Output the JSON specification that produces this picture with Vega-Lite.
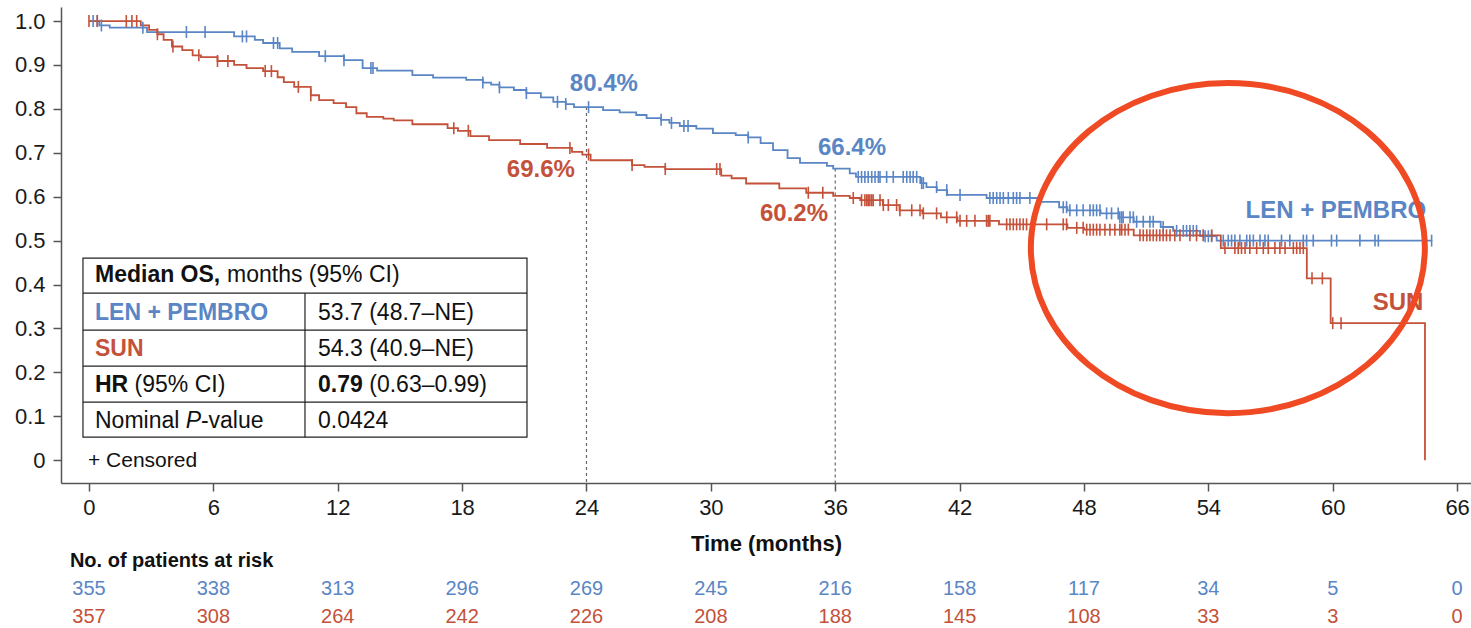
{
  "$schema": "https://vega.github.io/schema/vega-lite/v6.json",
  "padding": {"left": 14, "top": 7, "right": 0, "bottom": 0},
  "spacing": 64,
  "bounds": "flush",
  "config": {
    "font": "Liberation Sans",
    "view": {"stroke": null},
    "axis": {"domainColor": "#555", "tickColor": "#555", "domainWidth": 1.5, "tickWidth": 1.5, "labelColor": "#1a1a1a", "titleColor": "#111", "grid": false}
  },
  "datasets": {
    "km": [
      {"arm": "LEN + PEMBRO", "time": 0, "surv": 1.0},
      {"arm": "LEN + PEMBRO", "time": 0.5, "surv": 0.99},
      {"arm": "LEN + PEMBRO", "time": 1.0, "surv": 0.985},
      {"arm": "LEN + PEMBRO", "time": 2.8, "surv": 0.975},
      {"arm": "LEN + PEMBRO", "time": 7.0, "surv": 0.965},
      {"arm": "LEN + PEMBRO", "time": 8.0, "surv": 0.957},
      {"arm": "LEN + PEMBRO", "time": 8.4, "surv": 0.95},
      {"arm": "LEN + PEMBRO", "time": 9.2, "surv": 0.938},
      {"arm": "LEN + PEMBRO", "time": 9.8, "surv": 0.93},
      {"arm": "LEN + PEMBRO", "time": 11.1, "surv": 0.92},
      {"arm": "LEN + PEMBRO", "time": 12.3, "surv": 0.911},
      {"arm": "LEN + PEMBRO", "time": 13.2, "surv": 0.893},
      {"arm": "LEN + PEMBRO", "time": 13.9, "surv": 0.887},
      {"arm": "LEN + PEMBRO", "time": 15.6, "surv": 0.877},
      {"arm": "LEN + PEMBRO", "time": 16.6, "surv": 0.871},
      {"arm": "LEN + PEMBRO", "time": 18.2, "surv": 0.866},
      {"arm": "LEN + PEMBRO", "time": 19.0, "surv": 0.86},
      {"arm": "LEN + PEMBRO", "time": 19.4, "surv": 0.855},
      {"arm": "LEN + PEMBRO", "time": 19.8, "surv": 0.849},
      {"arm": "LEN + PEMBRO", "time": 20.5, "surv": 0.843},
      {"arm": "LEN + PEMBRO", "time": 21.1, "surv": 0.836},
      {"arm": "LEN + PEMBRO", "time": 21.8, "surv": 0.826},
      {"arm": "LEN + PEMBRO", "time": 22.4, "surv": 0.816},
      {"arm": "LEN + PEMBRO", "time": 23.0, "surv": 0.811},
      {"arm": "LEN + PEMBRO", "time": 23.4, "surv": 0.804},
      {"arm": "LEN + PEMBRO", "time": 24.8, "surv": 0.797},
      {"arm": "LEN + PEMBRO", "time": 25.6, "surv": 0.792},
      {"arm": "LEN + PEMBRO", "time": 26.4, "surv": 0.786},
      {"arm": "LEN + PEMBRO", "time": 26.9, "surv": 0.779},
      {"arm": "LEN + PEMBRO", "time": 27.6, "surv": 0.775},
      {"arm": "LEN + PEMBRO", "time": 28.0, "surv": 0.768},
      {"arm": "LEN + PEMBRO", "time": 28.5, "surv": 0.761},
      {"arm": "LEN + PEMBRO", "time": 29.3, "surv": 0.755},
      {"arm": "LEN + PEMBRO", "time": 30.1, "surv": 0.745},
      {"arm": "LEN + PEMBRO", "time": 31.2, "surv": 0.74},
      {"arm": "LEN + PEMBRO", "time": 31.8, "surv": 0.735},
      {"arm": "LEN + PEMBRO", "time": 32.4, "surv": 0.722},
      {"arm": "LEN + PEMBRO", "time": 33.0, "surv": 0.706},
      {"arm": "LEN + PEMBRO", "time": 33.7, "surv": 0.688},
      {"arm": "LEN + PEMBRO", "time": 34.3, "surv": 0.677},
      {"arm": "LEN + PEMBRO", "time": 35.6, "surv": 0.67},
      {"arm": "LEN + PEMBRO", "time": 35.9, "surv": 0.664},
      {"arm": "LEN + PEMBRO", "time": 36.7, "surv": 0.653},
      {"arm": "LEN + PEMBRO", "time": 37.0, "surv": 0.645},
      {"arm": "LEN + PEMBRO", "time": 40.1, "surv": 0.631},
      {"arm": "LEN + PEMBRO", "time": 40.4, "surv": 0.622},
      {"arm": "LEN + PEMBRO", "time": 40.9, "surv": 0.615},
      {"arm": "LEN + PEMBRO", "time": 41.4, "surv": 0.604},
      {"arm": "LEN + PEMBRO", "time": 43.3, "surv": 0.597},
      {"arm": "LEN + PEMBRO", "time": 45.9, "surv": 0.588},
      {"arm": "LEN + PEMBRO", "time": 46.8, "surv": 0.576},
      {"arm": "LEN + PEMBRO", "time": 47.2, "surv": 0.569},
      {"arm": "LEN + PEMBRO", "time": 48.8, "surv": 0.562},
      {"arm": "LEN + PEMBRO", "time": 49.7, "surv": 0.553},
      {"arm": "LEN + PEMBRO", "time": 50.4, "surv": 0.543},
      {"arm": "LEN + PEMBRO", "time": 51.7, "surv": 0.531},
      {"arm": "LEN + PEMBRO", "time": 52.3, "surv": 0.522},
      {"arm": "LEN + PEMBRO", "time": 53.6, "surv": 0.51},
      {"arm": "LEN + PEMBRO", "time": 54.4, "surv": 0.5},
      {"arm": "LEN + PEMBRO", "time": 64.8, "surv": 0.5},
      {"arm": "SUN", "time": 0, "surv": 1.0},
      {"arm": "SUN", "time": 2.5, "surv": 0.99},
      {"arm": "SUN", "time": 2.9, "surv": 0.98},
      {"arm": "SUN", "time": 3.3, "surv": 0.97},
      {"arm": "SUN", "time": 3.6, "surv": 0.957},
      {"arm": "SUN", "time": 4.0, "surv": 0.942},
      {"arm": "SUN", "time": 4.5, "surv": 0.934},
      {"arm": "SUN", "time": 5.0, "surv": 0.922},
      {"arm": "SUN", "time": 5.4, "surv": 0.918},
      {"arm": "SUN", "time": 6.2, "surv": 0.909},
      {"arm": "SUN", "time": 7.0, "surv": 0.9},
      {"arm": "SUN", "time": 7.6, "surv": 0.893},
      {"arm": "SUN", "time": 8.4, "surv": 0.886},
      {"arm": "SUN", "time": 9.1, "surv": 0.872},
      {"arm": "SUN", "time": 9.4, "surv": 0.861},
      {"arm": "SUN", "time": 9.9, "surv": 0.85},
      {"arm": "SUN", "time": 10.7, "surv": 0.831},
      {"arm": "SUN", "time": 11.1, "surv": 0.82},
      {"arm": "SUN", "time": 11.8, "surv": 0.813},
      {"arm": "SUN", "time": 12.4, "surv": 0.804},
      {"arm": "SUN", "time": 12.9, "surv": 0.79},
      {"arm": "SUN", "time": 13.4, "surv": 0.782},
      {"arm": "SUN", "time": 14.2, "surv": 0.778},
      {"arm": "SUN", "time": 14.7, "surv": 0.774},
      {"arm": "SUN", "time": 15.6, "surv": 0.765},
      {"arm": "SUN", "time": 17.3, "surv": 0.756},
      {"arm": "SUN", "time": 17.8, "surv": 0.75},
      {"arm": "SUN", "time": 18.4, "surv": 0.738},
      {"arm": "SUN", "time": 19.3, "surv": 0.729},
      {"arm": "SUN", "time": 20.8, "surv": 0.72},
      {"arm": "SUN", "time": 22.1, "surv": 0.711},
      {"arm": "SUN", "time": 23.3, "surv": 0.702},
      {"arm": "SUN", "time": 23.8, "surv": 0.696},
      {"arm": "SUN", "time": 24.2, "surv": 0.683},
      {"arm": "SUN", "time": 26.2, "surv": 0.672},
      {"arm": "SUN", "time": 26.8, "surv": 0.668},
      {"arm": "SUN", "time": 27.8, "surv": 0.663},
      {"arm": "SUN", "time": 30.5, "surv": 0.648},
      {"arm": "SUN", "time": 31.0, "surv": 0.642},
      {"arm": "SUN", "time": 31.7, "surv": 0.63},
      {"arm": "SUN", "time": 33.3, "surv": 0.619},
      {"arm": "SUN", "time": 34.6, "surv": 0.609},
      {"arm": "SUN", "time": 35.9, "surv": 0.602},
      {"arm": "SUN", "time": 36.7, "surv": 0.597},
      {"arm": "SUN", "time": 37.2, "surv": 0.592},
      {"arm": "SUN", "time": 38.3, "surv": 0.581},
      {"arm": "SUN", "time": 39.1, "surv": 0.569},
      {"arm": "SUN", "time": 40.2, "surv": 0.562},
      {"arm": "SUN", "time": 41.1, "surv": 0.553},
      {"arm": "SUN", "time": 41.9, "surv": 0.545},
      {"arm": "SUN", "time": 43.9, "surv": 0.537},
      {"arm": "SUN", "time": 47.2, "surv": 0.529},
      {"arm": "SUN", "time": 48.0, "surv": 0.525},
      {"arm": "SUN", "time": 50.4, "surv": 0.512},
      {"arm": "SUN", "time": 54.6, "surv": 0.483},
      {"arm": "SUN", "time": 58.75, "surv": 0.414},
      {"arm": "SUN", "time": 59.9, "surv": 0.312},
      {"arm": "SUN", "time": 64.45, "surv": 0.0}
    ],
    "cens": [
      {"arm": "LEN + PEMBRO", "time": 0.2, "surv": 1.0},
      {"arm": "LEN + PEMBRO", "time": 0.4, "surv": 1.0},
      {"arm": "LEN + PEMBRO", "time": 0.6, "surv": 0.99},
      {"arm": "LEN + PEMBRO", "time": 2.6, "surv": 0.985},
      {"arm": "LEN + PEMBRO", "time": 4.7, "surv": 0.975},
      {"arm": "LEN + PEMBRO", "time": 5.6, "surv": 0.975},
      {"arm": "LEN + PEMBRO", "time": 7.4, "surv": 0.965},
      {"arm": "LEN + PEMBRO", "time": 7.6, "surv": 0.965},
      {"arm": "LEN + PEMBRO", "time": 8.9, "surv": 0.95},
      {"arm": "LEN + PEMBRO", "time": 9.1, "surv": 0.95},
      {"arm": "LEN + PEMBRO", "time": 11.4, "surv": 0.92},
      {"arm": "LEN + PEMBRO", "time": 12.3, "surv": 0.911},
      {"arm": "LEN + PEMBRO", "time": 13.6, "surv": 0.893},
      {"arm": "LEN + PEMBRO", "time": 13.7, "surv": 0.893},
      {"arm": "LEN + PEMBRO", "time": 19.0, "surv": 0.86},
      {"arm": "LEN + PEMBRO", "time": 19.8, "surv": 0.849},
      {"arm": "LEN + PEMBRO", "time": 21.1, "surv": 0.836},
      {"arm": "LEN + PEMBRO", "time": 22.6, "surv": 0.816},
      {"arm": "LEN + PEMBRO", "time": 23.0, "surv": 0.811},
      {"arm": "LEN + PEMBRO", "time": 24.1, "surv": 0.804},
      {"arm": "LEN + PEMBRO", "time": 27.6, "surv": 0.775},
      {"arm": "LEN + PEMBRO", "time": 28.1, "surv": 0.768},
      {"arm": "LEN + PEMBRO", "time": 28.7, "surv": 0.761},
      {"arm": "LEN + PEMBRO", "time": 28.9, "surv": 0.761},
      {"arm": "LEN + PEMBRO", "time": 31.8, "surv": 0.735},
      {"arm": "LEN + PEMBRO", "time": 37.11, "surv": 0.645},
      {"arm": "LEN + PEMBRO", "time": 37.27, "surv": 0.645},
      {"arm": "LEN + PEMBRO", "time": 37.43, "surv": 0.645},
      {"arm": "LEN + PEMBRO", "time": 37.59, "surv": 0.645},
      {"arm": "LEN + PEMBRO", "time": 37.76, "surv": 0.645},
      {"arm": "LEN + PEMBRO", "time": 37.92, "surv": 0.645},
      {"arm": "LEN + PEMBRO", "time": 38.08, "surv": 0.645},
      {"arm": "LEN + PEMBRO", "time": 38.16, "surv": 0.645},
      {"arm": "LEN + PEMBRO", "time": 38.48, "surv": 0.645},
      {"arm": "LEN + PEMBRO", "time": 38.8, "surv": 0.645},
      {"arm": "LEN + PEMBRO", "time": 39.28, "surv": 0.645},
      {"arm": "LEN + PEMBRO", "time": 39.45, "surv": 0.645},
      {"arm": "LEN + PEMBRO", "time": 39.61, "surv": 0.645},
      {"arm": "LEN + PEMBRO", "time": 39.76, "surv": 0.645},
      {"arm": "LEN + PEMBRO", "time": 39.93, "surv": 0.645},
      {"arm": "LEN + PEMBRO", "time": 40.17, "surv": 0.631},
      {"arm": "LEN + PEMBRO", "time": 40.25, "surv": 0.631},
      {"arm": "LEN + PEMBRO", "time": 40.89, "surv": 0.622},
      {"arm": "LEN + PEMBRO", "time": 41.38, "surv": 0.615},
      {"arm": "LEN + PEMBRO", "time": 42.02, "surv": 0.604},
      {"arm": "LEN + PEMBRO", "time": 43.46, "surv": 0.597},
      {"arm": "LEN + PEMBRO", "time": 43.62, "surv": 0.597},
      {"arm": "LEN + PEMBRO", "time": 43.79, "surv": 0.597},
      {"arm": "LEN + PEMBRO", "time": 43.95, "surv": 0.597},
      {"arm": "LEN + PEMBRO", "time": 44.11, "surv": 0.597},
      {"arm": "LEN + PEMBRO", "time": 44.35, "surv": 0.597},
      {"arm": "LEN + PEMBRO", "time": 44.59, "surv": 0.597},
      {"arm": "LEN + PEMBRO", "time": 44.75, "surv": 0.597},
      {"arm": "LEN + PEMBRO", "time": 44.91, "surv": 0.597},
      {"arm": "LEN + PEMBRO", "time": 45.39, "surv": 0.597},
      {"arm": "LEN + PEMBRO", "time": 47.0, "surv": 0.576},
      {"arm": "LEN + PEMBRO", "time": 47.16, "surv": 0.576},
      {"arm": "LEN + PEMBRO", "time": 47.32, "surv": 0.569},
      {"arm": "LEN + PEMBRO", "time": 47.65, "surv": 0.569},
      {"arm": "LEN + PEMBRO", "time": 47.96, "surv": 0.569},
      {"arm": "LEN + PEMBRO", "time": 48.29, "surv": 0.569},
      {"arm": "LEN + PEMBRO", "time": 48.45, "surv": 0.569},
      {"arm": "LEN + PEMBRO", "time": 48.61, "surv": 0.569},
      {"arm": "LEN + PEMBRO", "time": 48.77, "surv": 0.569},
      {"arm": "LEN + PEMBRO", "time": 49.09, "surv": 0.562},
      {"arm": "LEN + PEMBRO", "time": 49.33, "surv": 0.562},
      {"arm": "LEN + PEMBRO", "time": 49.65, "surv": 0.562},
      {"arm": "LEN + PEMBRO", "time": 49.73, "surv": 0.553},
      {"arm": "LEN + PEMBRO", "time": 49.82, "surv": 0.553},
      {"arm": "LEN + PEMBRO", "time": 49.89, "surv": 0.553},
      {"arm": "LEN + PEMBRO", "time": 50.22, "surv": 0.553},
      {"arm": "LEN + PEMBRO", "time": 50.38, "surv": 0.553},
      {"arm": "LEN + PEMBRO", "time": 50.54, "surv": 0.543},
      {"arm": "LEN + PEMBRO", "time": 50.86, "surv": 0.543},
      {"arm": "LEN + PEMBRO", "time": 51.18, "surv": 0.543},
      {"arm": "LEN + PEMBRO", "time": 51.34, "surv": 0.543},
      {"arm": "LEN + PEMBRO", "time": 51.82, "surv": 0.531},
      {"arm": "LEN + PEMBRO", "time": 52.47, "surv": 0.522},
      {"arm": "LEN + PEMBRO", "time": 52.79, "surv": 0.522},
      {"arm": "LEN + PEMBRO", "time": 52.95, "surv": 0.522},
      {"arm": "LEN + PEMBRO", "time": 53.11, "surv": 0.522},
      {"arm": "LEN + PEMBRO", "time": 53.27, "surv": 0.522},
      {"arm": "LEN + PEMBRO", "time": 53.43, "surv": 0.522},
      {"arm": "LEN + PEMBRO", "time": 53.84, "surv": 0.51},
      {"arm": "LEN + PEMBRO", "time": 54.0, "surv": 0.51},
      {"arm": "LEN + PEMBRO", "time": 54.16, "surv": 0.51},
      {"arm": "LEN + PEMBRO", "time": 54.72, "surv": 0.5},
      {"arm": "LEN + PEMBRO", "time": 54.96, "surv": 0.5},
      {"arm": "LEN + PEMBRO", "time": 55.12, "surv": 0.5},
      {"arm": "LEN + PEMBRO", "time": 55.28, "surv": 0.5},
      {"arm": "LEN + PEMBRO", "time": 55.52, "surv": 0.5},
      {"arm": "LEN + PEMBRO", "time": 55.85, "surv": 0.5},
      {"arm": "LEN + PEMBRO", "time": 56.0, "surv": 0.5},
      {"arm": "LEN + PEMBRO", "time": 56.17, "surv": 0.5},
      {"arm": "LEN + PEMBRO", "time": 56.49, "surv": 0.5},
      {"arm": "LEN + PEMBRO", "time": 56.73, "surv": 0.5},
      {"arm": "LEN + PEMBRO", "time": 56.89, "surv": 0.5},
      {"arm": "LEN + PEMBRO", "time": 57.53, "surv": 0.5},
      {"arm": "LEN + PEMBRO", "time": 57.93, "surv": 0.5},
      {"arm": "LEN + PEMBRO", "time": 58.58, "surv": 0.5},
      {"arm": "LEN + PEMBRO", "time": 58.74, "surv": 0.5},
      {"arm": "LEN + PEMBRO", "time": 59.06, "surv": 0.5},
      {"arm": "LEN + PEMBRO", "time": 59.94, "surv": 0.5},
      {"arm": "LEN + PEMBRO", "time": 60.19, "surv": 0.5},
      {"arm": "LEN + PEMBRO", "time": 61.31, "surv": 0.5},
      {"arm": "LEN + PEMBRO", "time": 62.04, "surv": 0.5},
      {"arm": "LEN + PEMBRO", "time": 62.2, "surv": 0.5},
      {"arm": "LEN + PEMBRO", "time": 64.77, "surv": 0.5},
      {"arm": "SUN", "time": 0.0, "surv": 1.0},
      {"arm": "SUN", "time": 0.4, "surv": 1.0},
      {"arm": "SUN", "time": 1.8, "surv": 1.0},
      {"arm": "SUN", "time": 2.07, "surv": 1.0},
      {"arm": "SUN", "time": 2.3, "surv": 1.0},
      {"arm": "SUN", "time": 3.3, "surv": 0.97},
      {"arm": "SUN", "time": 4.05, "surv": 0.942},
      {"arm": "SUN", "time": 5.3, "surv": 0.922},
      {"arm": "SUN", "time": 6.2, "surv": 0.909},
      {"arm": "SUN", "time": 6.7, "surv": 0.909},
      {"arm": "SUN", "time": 8.5, "surv": 0.886},
      {"arm": "SUN", "time": 8.8, "surv": 0.886},
      {"arm": "SUN", "time": 10.1, "surv": 0.85},
      {"arm": "SUN", "time": 10.7, "surv": 0.831},
      {"arm": "SUN", "time": 17.6, "surv": 0.756},
      {"arm": "SUN", "time": 18.3, "surv": 0.75},
      {"arm": "SUN", "time": 23.2, "surv": 0.711},
      {"arm": "SUN", "time": 24.1, "surv": 0.696},
      {"arm": "SUN", "time": 26.2, "surv": 0.672},
      {"arm": "SUN", "time": 27.8, "surv": 0.663},
      {"arm": "SUN", "time": 30.28, "surv": 0.663},
      {"arm": "SUN", "time": 30.44, "surv": 0.663},
      {"arm": "SUN", "time": 34.7, "surv": 0.609},
      {"arm": "SUN", "time": 35.4, "surv": 0.609},
      {"arm": "SUN", "time": 36.87, "surv": 0.597},
      {"arm": "SUN", "time": 37.27, "surv": 0.592},
      {"arm": "SUN", "time": 37.43, "surv": 0.592},
      {"arm": "SUN", "time": 37.52, "surv": 0.592},
      {"arm": "SUN", "time": 37.59, "surv": 0.592},
      {"arm": "SUN", "time": 37.67, "surv": 0.592},
      {"arm": "SUN", "time": 37.76, "surv": 0.592},
      {"arm": "SUN", "time": 37.83, "surv": 0.592},
      {"arm": "SUN", "time": 38.16, "surv": 0.592},
      {"arm": "SUN", "time": 38.32, "surv": 0.581},
      {"arm": "SUN", "time": 38.56, "surv": 0.581},
      {"arm": "SUN", "time": 38.96, "surv": 0.581},
      {"arm": "SUN", "time": 39.12, "surv": 0.569},
      {"arm": "SUN", "time": 39.69, "surv": 0.569},
      {"arm": "SUN", "time": 40.09, "surv": 0.569},
      {"arm": "SUN", "time": 40.25, "surv": 0.562},
      {"arm": "SUN", "time": 40.89, "surv": 0.562},
      {"arm": "SUN", "time": 41.38, "surv": 0.553},
      {"arm": "SUN", "time": 41.86, "surv": 0.553},
      {"arm": "SUN", "time": 42.02, "surv": 0.545},
      {"arm": "SUN", "time": 42.34, "surv": 0.545},
      {"arm": "SUN", "time": 42.74, "surv": 0.545},
      {"arm": "SUN", "time": 43.3, "surv": 0.545},
      {"arm": "SUN", "time": 43.38, "surv": 0.545},
      {"arm": "SUN", "time": 43.46, "surv": 0.545},
      {"arm": "SUN", "time": 44.27, "surv": 0.537},
      {"arm": "SUN", "time": 44.43, "surv": 0.537},
      {"arm": "SUN", "time": 44.59, "surv": 0.537},
      {"arm": "SUN", "time": 44.75, "surv": 0.537},
      {"arm": "SUN", "time": 44.91, "surv": 0.537},
      {"arm": "SUN", "time": 45.07, "surv": 0.537},
      {"arm": "SUN", "time": 45.23, "surv": 0.537},
      {"arm": "SUN", "time": 46.2, "surv": 0.537},
      {"arm": "SUN", "time": 47.0, "surv": 0.537},
      {"arm": "SUN", "time": 47.16, "surv": 0.537},
      {"arm": "SUN", "time": 47.65, "surv": 0.529},
      {"arm": "SUN", "time": 47.96, "surv": 0.529},
      {"arm": "SUN", "time": 48.13, "surv": 0.525},
      {"arm": "SUN", "time": 48.29, "surv": 0.525},
      {"arm": "SUN", "time": 48.45, "surv": 0.525},
      {"arm": "SUN", "time": 48.61, "surv": 0.525},
      {"arm": "SUN", "time": 48.77, "surv": 0.525},
      {"arm": "SUN", "time": 49.01, "surv": 0.525},
      {"arm": "SUN", "time": 49.25, "surv": 0.525},
      {"arm": "SUN", "time": 49.49, "surv": 0.525},
      {"arm": "SUN", "time": 49.73, "surv": 0.525},
      {"arm": "SUN", "time": 49.82, "surv": 0.525},
      {"arm": "SUN", "time": 49.98, "surv": 0.525},
      {"arm": "SUN", "time": 50.14, "surv": 0.525},
      {"arm": "SUN", "time": 50.7, "surv": 0.512},
      {"arm": "SUN", "time": 50.86, "surv": 0.512},
      {"arm": "SUN", "time": 51.03, "surv": 0.512},
      {"arm": "SUN", "time": 51.18, "surv": 0.512},
      {"arm": "SUN", "time": 51.34, "surv": 0.512},
      {"arm": "SUN", "time": 51.5, "surv": 0.512},
      {"arm": "SUN", "time": 51.66, "surv": 0.512},
      {"arm": "SUN", "time": 51.82, "surv": 0.512},
      {"arm": "SUN", "time": 51.98, "surv": 0.512},
      {"arm": "SUN", "time": 52.15, "surv": 0.512},
      {"arm": "SUN", "time": 52.38, "surv": 0.512},
      {"arm": "SUN", "time": 52.63, "surv": 0.512},
      {"arm": "SUN", "time": 53.11, "surv": 0.512},
      {"arm": "SUN", "time": 53.43, "surv": 0.512},
      {"arm": "SUN", "time": 53.75, "surv": 0.512},
      {"arm": "SUN", "time": 54.16, "surv": 0.512},
      {"arm": "SUN", "time": 54.8, "surv": 0.483},
      {"arm": "SUN", "time": 55.28, "surv": 0.483},
      {"arm": "SUN", "time": 55.44, "surv": 0.483},
      {"arm": "SUN", "time": 55.6, "surv": 0.483},
      {"arm": "SUN", "time": 55.77, "surv": 0.483},
      {"arm": "SUN", "time": 56.0, "surv": 0.483},
      {"arm": "SUN", "time": 56.33, "surv": 0.483},
      {"arm": "SUN", "time": 56.65, "surv": 0.483},
      {"arm": "SUN", "time": 56.89, "surv": 0.483},
      {"arm": "SUN", "time": 57.21, "surv": 0.483},
      {"arm": "SUN", "time": 57.45, "surv": 0.483},
      {"arm": "SUN", "time": 57.7, "surv": 0.483},
      {"arm": "SUN", "time": 58.1, "surv": 0.483},
      {"arm": "SUN", "time": 58.26, "surv": 0.483},
      {"arm": "SUN", "time": 58.42, "surv": 0.483},
      {"arm": "SUN", "time": 58.58, "surv": 0.483},
      {"arm": "SUN", "time": 59.0, "surv": 0.414},
      {"arm": "SUN", "time": 59.5, "surv": 0.414},
      {"arm": "SUN", "time": 60.0, "surv": 0.312},
      {"arm": "SUN", "time": 60.4, "surv": 0.312}
    ],
    "risk": [
      {"arm": "LEN + PEMBRO", "time": 0, "n": 355},
      {"arm": "LEN + PEMBRO", "time": 6, "n": 338},
      {"arm": "LEN + PEMBRO", "time": 12, "n": 313},
      {"arm": "LEN + PEMBRO", "time": 18, "n": 296},
      {"arm": "LEN + PEMBRO", "time": 24, "n": 269},
      {"arm": "LEN + PEMBRO", "time": 30, "n": 245},
      {"arm": "LEN + PEMBRO", "time": 36, "n": 216},
      {"arm": "LEN + PEMBRO", "time": 42, "n": 158},
      {"arm": "LEN + PEMBRO", "time": 48, "n": 117},
      {"arm": "LEN + PEMBRO", "time": 54, "n": 34},
      {"arm": "LEN + PEMBRO", "time": 60, "n": 5},
      {"arm": "LEN + PEMBRO", "time": 66, "n": 0},
      {"arm": "SUN", "time": 0, "n": 357},
      {"arm": "SUN", "time": 6, "n": 308},
      {"arm": "SUN", "time": 12, "n": 264},
      {"arm": "SUN", "time": 18, "n": 242},
      {"arm": "SUN", "time": 24, "n": 226},
      {"arm": "SUN", "time": 30, "n": 208},
      {"arm": "SUN", "time": 36, "n": 188},
      {"arm": "SUN", "time": 42, "n": 145},
      {"arm": "SUN", "time": 48, "n": 108},
      {"arm": "SUN", "time": 54, "n": 33},
      {"arm": "SUN", "time": 60, "n": 3},
      {"arm": "SUN", "time": 66, "n": 0}
    ],
    "landmarks": [
      {"time": 24, "surv": 0.804},
      {"time": 36, "surv": 0.664}
    ]
  },
  "vconcat": [
    {
      "width": 1410,
      "height": 476,
      "layer": [
        {
          "data": {"name": "landmarks"},
          "mark": {"type": "rule", "color": "#666", "strokeDash": [3, 3], "strokeWidth": 1.2},
          "encoding": {
            "x": {"field": "time", "type": "quantitative"},
            "y": {"field": "surv", "type": "quantitative"},
            "y2": {"datum": -0.052}
          }
        },
        {
          "data": {"name": "km"},
          "mark": {"type": "line", "interpolate": "step-after", "strokeWidth": 1.8},
          "encoding": {
            "x": {"field": "time", "type": "quantitative",
              "scale": {"domain": [-1.35, 66.67], "nice": false, "zero": false},
              "axis": {"values": [0, 6, 12, 18, 24, 30, 36, 42, 48, 54, 60, 66], "title": "Time (months)", "tickSize": 8, "labelPadding": 6, "titlePadding": 15, "labelFontSize": 22, "titleFontSize": 22, "titleFontWeight": "bold"}},
            "y": {"field": "surv", "type": "quantitative",
              "scale": {"domain": [-0.052, 1.032], "nice": false, "zero": false},
              "axis": {"values": [0, 0.1, 0.2, 0.3, 0.4, 0.5, 0.6, 0.7, 0.8, 0.9, 1], "labelExpr": "datum.value === 0 ? '0' : format(datum.value, '.1f')", "title": null, "tickSize": 8, "labelPadding": 8, "labelFontSize": 22}},
            "color": {"field": "arm", "type": "nominal", "scale": {"domain": ["LEN + PEMBRO", "SUN"], "range": ["#5a86c5", "#c4513a"]}, "legend": null}
          }
        },
        {
          "data": {"name": "cens"},
          "mark": {"type": "point", "shape": "M0,-1L0,1", "size": 144, "filled": false, "strokeWidth": 1.6, "opacity": 1},
          "encoding": {
            "x": {"field": "time", "type": "quantitative"},
            "y": {"field": "surv", "type": "quantitative"},
            "color": {"field": "arm", "type": "nominal", "scale": {"domain": ["LEN + PEMBRO", "SUN"], "range": ["#5a86c5", "#c4513a"]}, "legend": null}
          }
        },
        {"data": {"values": [{}]}, "mark": {"type": "text", "text": "80.4%", "fontSize": 24, "fontWeight": "bold", "color": "#5a86c5"}, "encoding": {"x": {"datum": 24.84, "type": "quantitative"}, "y": {"datum": 0.8565, "type": "quantitative"}}},
        {"data": {"values": [{}]}, "mark": {"type": "text", "text": "69.6%", "fontSize": 24, "fontWeight": "bold", "color": "#c4513a"}, "encoding": {"x": {"datum": 21.8, "type": "quantitative"}, "y": {"datum": 0.6606, "type": "quantitative"}}},
        {"data": {"values": [{}]}, "mark": {"type": "text", "text": "66.4%", "fontSize": 24, "fontWeight": "bold", "color": "#5a86c5"}, "encoding": {"x": {"datum": 36.81, "type": "quantitative"}, "y": {"datum": 0.7107, "type": "quantitative"}}},
        {"data": {"values": [{}]}, "mark": {"type": "text", "text": "60.2%", "fontSize": 24, "fontWeight": "bold", "color": "#c4513a"}, "encoding": {"x": {"datum": 34.01, "type": "quantitative"}, "y": {"datum": 0.5604, "type": "quantitative"}}},
        {"data": {"values": [{}]}, "mark": {"type": "text", "text": "LEN + PEMBRO", "fontSize": 24, "fontWeight": "bold", "color": "#5a86c5"}, "encoding": {"x": {"datum": 60.15, "type": "quantitative"}, "y": {"datum": 0.5672, "type": "quantitative"}}},
        {"data": {"values": [{}]}, "mark": {"type": "text", "text": "SUN", "fontSize": 24, "fontWeight": "bold", "color": "#c4513a"}, "encoding": {"x": {"datum": 63.15, "type": "quantitative"}, "y": {"datum": 0.3576, "type": "quantitative"}}},
        {"data": {"values": [{}]}, "mark": {"type": "rect", "fill": "white", "stroke": "#222", "strokeWidth": 1.2}, "encoding": {"x": {"datum": -0.29, "type": "quantitative"}, "x2": {"datum": 21.13}, "y": {"datum": 0.4601, "type": "quantitative"}, "y2": {"datum": 0.0524}}},
        {"data": {"values": [{}]}, "mark": {"type": "rule", "color": "#222", "strokeWidth": 1.2}, "encoding": {"x": {"datum": -0.29, "type": "quantitative"}, "x2": {"datum": 21.13}, "y": {"datum": 0.3804, "type": "quantitative"}}},
        {"data": {"values": [{}]}, "mark": {"type": "rule", "color": "#222", "strokeWidth": 1.2}, "encoding": {"x": {"datum": -0.29, "type": "quantitative"}, "x2": {"datum": 21.13}, "y": {"datum": 0.2961, "type": "quantitative"}}},
        {"data": {"values": [{}]}, "mark": {"type": "rule", "color": "#222", "strokeWidth": 1.2}, "encoding": {"x": {"datum": -0.29, "type": "quantitative"}, "x2": {"datum": 21.13}, "y": {"datum": 0.2141, "type": "quantitative"}}},
        {"data": {"values": [{}]}, "mark": {"type": "rule", "color": "#222", "strokeWidth": 1.2}, "encoding": {"x": {"datum": -0.29, "type": "quantitative"}, "x2": {"datum": 21.13}, "y": {"datum": 0.1321, "type": "quantitative"}}},
        {"data": {"values": [{}]}, "mark": {"type": "rule", "color": "#222", "strokeWidth": 1.2}, "encoding": {"x": {"datum": 10.42, "type": "quantitative"}, "y": {"datum": 0.3804, "type": "quantitative"}, "y2": {"datum": 0.0524}}},
        {"data": {"values": [{}]}, "mark": {"type": "text", "text": "Median OS,", "fontSize": 23, "fontWeight": "bold", "align": "left", "color": "#111"}, "encoding": {"x": {"datum": 0.29, "type": "quantitative"}, "y": {"datum": 0.4214, "type": "quantitative"}}},
        {"data": {"values": [{}]}, "mark": {"type": "text", "text": "months (95% CI)", "fontSize": 23, "align": "left", "color": "#111"}, "encoding": {"x": {"datum": 6.66, "type": "quantitative"}, "y": {"datum": 0.4214, "type": "quantitative"}}},
        {"data": {"values": [{}]}, "mark": {"type": "text", "text": "LEN + PEMBRO", "fontSize": 23, "fontWeight": "bold", "align": "left", "color": "#5a86c5"}, "encoding": {"x": {"datum": 0.29, "type": "quantitative"}, "y": {"datum": 0.3349, "type": "quantitative"}}},
        {"data": {"values": [{}]}, "mark": {"type": "text", "text": "53.7 (48.7–NE)", "fontSize": 23, "align": "left", "color": "#111"}, "encoding": {"x": {"datum": 11.05, "type": "quantitative"}, "y": {"datum": 0.3349, "type": "quantitative"}}},
        {"data": {"values": [{}]}, "mark": {"type": "text", "text": "SUN", "fontSize": 23, "fontWeight": "bold", "align": "left", "color": "#c4513a"}, "encoding": {"x": {"datum": 0.29, "type": "quantitative"}, "y": {"datum": 0.2528, "type": "quantitative"}}},
        {"data": {"values": [{}]}, "mark": {"type": "text", "text": "54.3 (40.9–NE)", "fontSize": 23, "align": "left", "color": "#111"}, "encoding": {"x": {"datum": 11.05, "type": "quantitative"}, "y": {"datum": 0.2528, "type": "quantitative"}}},
        {"data": {"values": [{}]}, "mark": {"type": "text", "text": "HR", "fontSize": 23, "fontWeight": "bold", "align": "left", "color": "#111"}, "encoding": {"x": {"datum": 0.29, "type": "quantitative"}, "y": {"datum": 0.1708, "type": "quantitative"}}},
        {"data": {"values": [{}]}, "mark": {"type": "text", "text": "(95% CI)", "fontSize": 23, "align": "left", "color": "#111"}, "encoding": {"x": {"datum": 2.2, "type": "quantitative"}, "y": {"datum": 0.1708, "type": "quantitative"}}},
        {"data": {"values": [{}]}, "mark": {"type": "text", "text": "0.79", "fontSize": 23, "fontWeight": "bold", "align": "left", "color": "#111"}, "encoding": {"x": {"datum": 11.05, "type": "quantitative"}, "y": {"datum": 0.1708, "type": "quantitative"}}},
        {"data": {"values": [{}]}, "mark": {"type": "text", "text": "(0.63–0.99)", "fontSize": 23, "align": "left", "color": "#111"}, "encoding": {"x": {"datum": 13.52, "type": "quantitative"}, "y": {"datum": 0.1708, "type": "quantitative"}}},
        {"data": {"values": [{}]}, "mark": {"type": "text", "text": "Nominal", "fontSize": 23, "align": "left", "color": "#111"}, "encoding": {"x": {"datum": 0.29, "type": "quantitative"}, "y": {"datum": 0.0888, "type": "quantitative"}}},
        {"data": {"values": [{}]}, "mark": {"type": "text", "text": "P", "fontSize": 23, "fontStyle": "italic", "align": "left", "color": "#111"}, "encoding": {"x": {"datum": 4.67, "type": "quantitative"}, "y": {"datum": 0.0888, "type": "quantitative"}}},
        {"data": {"values": [{}]}, "mark": {"type": "text", "text": "-value", "fontSize": 23, "align": "left", "color": "#111"}, "encoding": {"x": {"datum": 5.4, "type": "quantitative"}, "y": {"datum": 0.0888, "type": "quantitative"}}},
        {"data": {"values": [{}]}, "mark": {"type": "text", "text": "0.0424", "fontSize": 23, "align": "left", "color": "#111"}, "encoding": {"x": {"datum": 11.05, "type": "quantitative"}, "y": {"datum": 0.0888, "type": "quantitative"}}},
        {"data": {"values": [{}]}, "mark": {"type": "text", "text": "+  Censored", "fontSize": 21, "align": "left", "color": "#111"}, "encoding": {"x": {"datum": -0.05, "type": "quantitative"}, "y": {"datum": -0.002, "type": "quantitative"}}},
        {"data": {"values": [{}]}, "mark": {"type": "point", "shape": "M-1,0A1,0.838,0,1,0,1,0A1,0.838,0,1,0,-1,0Z", "size": 155236, "filled": false, "stroke": "#ef4a24", "strokeWidth": 6, "opacity": 1}, "encoding": {"x": {"datum": 54.94, "type": "quantitative"}, "y": {"datum": 0.483, "type": "quantitative"}}}
      ]
    },
    {
      "width": 1410,
      "height": 84,
      "layer": [
        {
          "data": {"name": "risk"},
          "mark": {"type": "text", "fontSize": 20},
          "encoding": {
            "x": {"field": "time", "type": "quantitative", "scale": {"domain": [-1.35, 66.67], "nice": false, "zero": false}, "axis": null},
            "y": {"field": "arm", "type": "nominal", "scale": {"domain": ["header", "LEN + PEMBRO", "SUN"], "paddingInner": 0, "paddingOuter": 0}, "axis": null},
            "text": {"field": "n", "type": "quantitative"},
            "color": {"field": "arm", "type": "nominal", "scale": {"domain": ["LEN + PEMBRO", "SUN"], "range": ["#5a86c5", "#c4513a"]}, "legend": null}
          }
        },
        {
          "data": {"values": [{}]},
          "mark": {"type": "text", "text": "No. of patients at risk", "fontSize": 20, "fontWeight": "bold", "align": "left", "color": "#111"},
          "encoding": {
            "x": {"datum": -0.92, "type": "quantitative"},
            "y": {"datum": "header", "type": "nominal"}
          }
        }
      ]
    }
  ]
}
